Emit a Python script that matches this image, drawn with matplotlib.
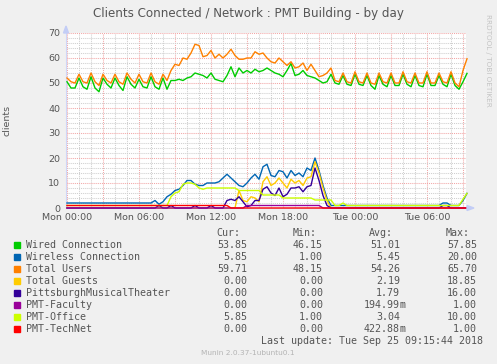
import numpy as np
import matplotlib
matplotlib.use('Agg')
from matplotlib import pyplot as plt
from matplotlib.patches import Rectangle, Polygon

W, H = 497, 364

# 20 minute samples, hours since Mon 00:00
hours = np.arange(101) / 3

wired = [50.5, 48, 48, 52, 48.5, 47.5, 52.5, 48, 46.5, 52,
         49.5, 48, 52, 49, 47, 52.5, 49.5, 48, 51.5, 48.5,
         48, 52.5, 48.5, 47.5, 52, 47.5, 51, 51, 51.5, 51,
         52, 52.5, 54, 53.5, 53, 52, 54, 51.5, 51, 50.5,
         53, 56.5, 52.5, 56, 54, 55, 54, 55.5, 54.5, 55,
         56, 55, 54, 53.5, 52.5, 55, 57.8, 53, 53.5, 55,
         53, 52.5, 52, 51, 50, 50.5, 53.5, 50, 49.5, 53,
         49.5, 49, 53.5, 49.5, 49, 53, 49, 47.5, 53, 49.5,
         48.5, 53, 49, 49, 53.5, 49.5, 48.5, 53, 49, 48.5,
         53.5, 49, 49, 53, 49.5, 48.5, 53.5, 49, 47.5, 50.5,
         53.85]
wireless = [2, 2, 2, 2, 2, 2, 2, 2, 2, 2,
            2, 2, 2, 2, 2, 2, 2, 2, 2, 2,
            2, 2, 3, 1.5, 2.5, 4.5, 5.5, 7, 7.5, 9,
            11, 11, 9.5, 9, 9, 10, 10, 10, 10.5, 12,
            13.5, 12, 10.5, 9, 8.5, 10, 12, 13.5, 11.5, 16.5,
            17.5, 13, 12.5, 15, 14.5, 12, 15, 13, 14, 12.5,
            16, 15, 20, 15, 9, 4, 1, 1, 1, 1,
            1, 1, 1, 1, 1, 1, 1, 1, 1, 1,
            1, 1, 1, 1, 1, 1, 1, 1, 1, 1,
            1, 1, 1, 1, 2, 2, 1, 1, 1, 3,
            5.85]
total = [52, 50.5, 50, 53.5, 50.5, 50, 54, 50.5, 49, 53.5,
         51, 50, 53.5, 50.5, 49.5, 54, 51.5, 50, 53.5, 50.5,
         50, 54, 50.5, 49.5, 53.5, 51, 55, 57.5, 57, 60,
         59.5, 62, 65.5, 65, 60.5, 61, 63, 60, 61.5, 60,
         61.5, 63.5, 61, 59.5, 59.5, 60, 60, 62.5, 61.5, 62,
         60, 58.5, 58, 60, 58.5, 57, 58.5, 56, 56.5, 58,
         55, 57.5, 55, 52.5, 53, 54, 56, 51, 50.5, 54,
         50.5, 50, 54.5, 50.5, 50, 54, 50, 49.5, 54, 50.5,
         50, 54, 50, 50, 54.5, 50.5, 50, 54, 50, 50,
         54.5, 50, 50, 54, 50.5, 50, 54.5, 50, 48.5, 55,
         59.71]
guests = [0, 0, 0, 0, 0, 0, 0, 0, 0, 0,
          0, 0, 0, 0, 0, 0, 0, 0, 0, 0,
          0, 0, 0, 0, 0, 0, 0, 0, 0, 0,
          0, 0, 0, 0, 0, 0, 0, 0, 0, 0,
          0, 0, 0, 7, 3, 2.5, 4.5, 4, 2.5, 10.5,
          12.5, 9, 10, 12, 10, 8, 11.5, 10, 11, 9,
          12, 12.5, 18.5, 14, 8, 3, 0, 0, 0, 0,
          0, 0, 0, 0, 0, 0, 0, 0, 0, 0,
          0, 0, 0, 0, 0, 0, 0, 0, 0, 0,
          0, 0, 0, 0, 0, 0, 0, 0, 0, 0,
          0]
theater = [0, 0, 0, 0, 0, 0, 0, 0, 0, 0,
           0, 0, 0, 0, 0, 0, 0, 0, 0, 0,
           0, 0, 0, 1, 0, 0, 1, 0, 0, 0,
           0, 0, 1, 0, 0, 0, 1, 0, 0, 0,
           3, 3.5, 3, 4.5, 2.5, 0.5, 1, 3, 3, 7.5,
           8.5, 6, 5, 8, 4.5, 5.5, 8, 8, 8.5, 6.5,
           8.5, 9, 16, 11, 5, 1, 0, 0, 0, 0,
           0, 0, 0, 0, 0, 0, 0, 0, 0, 0,
           0, 0, 0, 0, 0, 0, 0, 0, 0, 0,
           0, 0, 0, 0, 1, 1, 0, 0, 0, 0,
           0]
faculty = [0, 0, 0, 0, 0, 0, 0, 0, 0, 0,
           0, 0, 0, 0, 0, 0, 0, 0, 0, 0,
           0, 0, 0, 0, 0, 0, 0, 0, 0, 0,
           0, 0, 0, 0, 0, 0, 0, 0, 0, 0,
           0, 0, 0, 0, 0, 1, 1, 1, 1, 1,
           1, 1, 1, 1, 1, 1, 1, 1, 1, 1,
           1, 1, 1, 1, 0, 0, 0, 0, 0, 0,
           0, 0, 0, 0, 0, 0, 0, 0, 0, 0,
           0, 0, 0, 0, 0, 0, 0, 0, 0, 0,
           0, 0, 0, 0, 0, 0, 0, 0, 0, 0,
           0]
office = [1, 1, 1, 1, 1, 1, 1, 1, 1, 1,
          1, 1, 1, 1, 1, 1, 1, 1, 1, 1,
          1, 1, 1, 1, 1, 1, 4.5, 6, 6.5, 9.5,
          10, 10, 9.5, 8, 7.5, 8, 8, 8, 8, 8,
          8, 8, 8, 7, 7, 7, 7, 7, 7, 5.2,
          5.2, 5.2, 5.2, 5.2, 4, 4, 4, 4, 4, 4,
          4, 4, 3.2, 3.2, 3.2, 3.2, 3.2, 1, 1, 2,
          1, 1, 1, 1, 1, 1, 1, 1, 1, 1,
          1, 1, 1, 1, 1, 1, 1, 1, 1, 1,
          1, 1, 1, 1, 1, 1, 1, 1, 1, 3.5,
          5.85]
technet = [1, 1, 1, 1, 1, 1, 1, 1, 1, 1,
           1, 1, 1, 1, 1, 1, 1, 1, 1, 1,
           1, 1, 1, 1, 1, 1, 1, 1, 1, 1,
           1, 1, 1, 1, 1, 1, 1, 1, 1, 1,
           1, 0, 0, 0, 0, 0, 0, 0, 0, 0,
           0, 0, 0, 0, 0, 0, 0, 0, 0, 0,
           0, 0, 0, 0, 0, 0, 0, 0, 0, 0,
           0, 0, 0, 0, 0, 0, 0, 0, 0, 0,
           0, 0, 0, 0, 0, 0, 0, 0, 0, 0,
           0, 0, 0, 0, 0, 0, 0, 0, 0, 0,
           0]

names = ['Wired Connection', 'Wireless Connection', 'Total Users', 'Total Guests',
         'PittsburghMusicalTheater', 'PMT-Faculty', 'PMT-Office', 'PMT-TechNet']
colors = ['#00CC00', '#0066B3', '#FF8000', '#FFCC00',
          '#330099', '#990099', '#CCFF00', '#FF0000']
values = [wired, wireless, total, guests, theater, faculty, office, technet]

cur = ['53.85', '5.85', '59.71', '0.00', '0.00', '0.00', '5.85', '0.00']
mins = ['46.15', '1.00', '48.15', '0.00', '0.00', '0.00', '1.00', '0.00']
avgs = ['51.01', '5.45', '54.26', '2.19', '1.79', '194.99m', '3.04', '422.88m']
maxs = ['57.85', '20.00', '65.70', '18.85', '16.00', '1.00', '10.00', '1.00']

tick_hours = [0, 6, 12, 18, 24, 30]
tick_labels = ['Mon 00:00', 'Mon 06:00', 'Mon 12:00', 'Mon 18:00', 'Tue 00:00', 'Tue 06:00']

FONT = '#555555'


def fx(x):
    return x / W


def fy(y):
    return 1 - y / H


fig = plt.figure(figsize=(W / 100, H / 100), dpi=100, facecolor='#F0F0F0')
ax = fig.add_axes([fx(66), fy(208), 400 / W, 175 / H])
ax.set_facecolor('white')
ax.set_xlim(-1 / 12, 33.25)
ax.set_ylim(0, 70)

# grid: gray minor, red major
for h in range(0, 34):
    c = '#f2a6a6' if h % 3 == 0 else '#cfcfcf'
    ax.axvline(h, color=c, lw=0.75, ls=(0, (1, 1)), zorder=1)
for v in range(2, 71, 2):
    c = '#f2a6a6' if v % 10 == 0 else '#cfcfcf'
    ax.axhline(v, color=c, lw=0.75, ls=(0, (1, 1)), zorder=1)

for vals, col in zip(values, colors):
    ax.plot(hours, vals, color=col, lw=1.0, zorder=3, clip_on=False)

for s in ax.spines.values():
    s.set_visible(False)
ax.spines['left'].set_visible(True)
ax.spines['left'].set_color('#cfd6f8')
ax.spines['bottom'].set_visible(True)
ax.spines['bottom'].set_color('#cfd6f8')

ax.set_xticks(tick_hours, tick_labels)
ax.set_yticks(range(0, 71, 10))
ax.tick_params(length=0, labelsize=6.8, colors=FONT)
ax.tick_params(axis='y', pad=4.3)
ax.tick_params(axis='x', pad=3.8)
ax.set_ylabel('clients', fontsize=6.8, color=FONT)
ax.yaxis.set_label_coords(fx(12) / (400 / W) - fx(66) / (400 / W), 0.5)

# arrows
fig.patches.append(Polygon([(fx(63.5), fy(33)), (fx(68.5), fy(33)), (fx(66), fy(26))],
                           closed=True, transform=fig.transFigure, color='#c3cdf6'))
fig.patches.append(Polygon([(fx(467), fy(205.5)), (fx(467), fy(210.5)), (fx(474), fy(208))],
                           closed=True, transform=fig.transFigure, color='#c3cdf6'))

fig.text(0.5, fy(13), 'Clients Connected / Network : PMT Building - by day',
         ha='center', va='center', fontsize=8.6, color=FONT)
fig.text(fx(488), fy(60), 'RRDTOOL / TOBI OETIKER', rotation=270, ha='center', va='center',
         fontsize=5.2, color='#c4c4c4')

mono = 'DejaVu Sans Mono'
fs = 7.2
for label, xr in zip(['Cur:', 'Min:', 'Avg:', 'Max:'], [240, 317, 393, 470]):
    fig.text(fx(xr), fy(233), label, ha='right', va='center', family=mono, fontsize=fs, color=FONT)

for i, name in enumerate(names):
    y = 245 + 11.95 * i
    fig.patches.append(Rectangle((fx(14), fy(y + 3)), 6 / W, 6 / H,
                                 transform=fig.transFigure, color=colors[i]))
    fig.text(fx(26), fy(y), name, ha='left', va='center', family=mono, fontsize=fs, color=FONT)
    for val, xr in zip([cur[i], mins[i], avgs[i], maxs[i]], [247, 323, 400, 477]):
        suffix = ''
        if val.endswith('m'):
            val, suffix = val[:-1], 'm'
        fig.text(fx(xr), fy(y), val, ha='right', va='center', family=mono, fontsize=fs, color=FONT)
        if suffix:
            fig.text(fx(xr), fy(y), suffix, ha='left', va='center', family=mono, fontsize=fs,
                     color=FONT)

fig.text(fx(483), fy(340.5), 'Last update: Tue Sep 25 09:15:44 2018', ha='right', va='center',
         family=mono, fontsize=fs, color=FONT)
fig.text(fx(248), fy(353), 'Munin 2.0.37-1ubuntu0.1', ha='center', va='center',
         fontsize=5.3, color='#b4b4b4')

fig.savefig('out.png', dpi=100, facecolor=fig.get_facecolor())
plt.close(fig)
